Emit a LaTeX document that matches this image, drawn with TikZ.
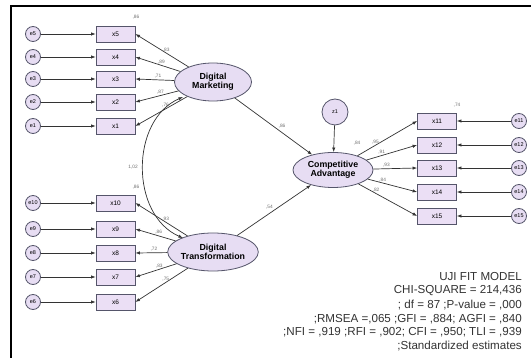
\documentclass[tikz,border=0pt]{standalone}
\usepackage{fontspec}
\setmainfont{Liberation Sans}
\usetikzlibrary{shapes.geometric,arrows.meta}
\definecolor{edgec}{HTML}{55556A}
\definecolor{fillc}{HTML}{E7DDF3}
\definecolor{boxc}{HTML}{EBDFF5}
\definecolor{linec}{HTML}{333333}
\definecolor{labc}{HTML}{707070}
\newcommand{\fsz}[1]{\fontsize{#1}{#1}\selectfont}
\tikzset{
  err/.style={circle, draw=edgec, fill=fillc, line width=0.8pt, minimum size=15pt, inner sep=0pt, font=\fsz{5.5}},
  obs/.style={rectangle, draw=edgec, fill=boxc, line width=0.8pt, minimum width=39pt, minimum height=16pt, inner sep=0pt, font=\fsz{6.5}},
  lat/.style={ellipse, draw=edgec, fill=fillc, line width=0.8pt, inner sep=0pt, align=center, font=\bfseries\fsz{8.8}},
  arr/.style={-{Latex[length=4.5pt,width=3.4pt]}, draw=linec, line width=0.7pt},
  lab/.style={font=\fsz{4.8}, text=labc, inner sep=0.5pt},
  fit/.style={font=\fsz{11.6}, text=black!80, anchor=east, inner sep=0pt}
}
\begin{document}
\begin{tikzpicture}[x=1pt,y=-1pt]
\useasboundingbox (0,0) rectangle (531,358);
\fill[white] (0,0) rectangle (531,358);
\draw[black, line width=1.4pt] (11,358) -- (11,6) -- (531,6);
% latent variables
\node[lat, minimum width=77pt, minimum height=38pt] (DM) at (213,82) {Digital\\Marketing};
\node[lat, minimum width=77pt, minimum height=38pt] (DT) at (213,252) {Digital\\Transformation};
\node[lat, minimum width=80pt, minimum height=35pt] (CA) at (333,170) {Competitive\\Advantage};
\node[err, minimum size=26pt] (z1) at (335,112) {z1};
% Digital Marketing indicators
\foreach \i/\y/\v in {5/34/{,83},4/57/{,89},3/79/{,71},2/102/{,87},1/126/{,76}}{
  \node[err] (e\i) at (33,\y) {e\i};
  \node[obs] (x\i) at (115.5,\y) {x\i};
  \draw[arr] (e\i) -- (x\i);
  \draw[arr] (DM) -- node[lab, pos=0.42, above=0.5pt] {\v} (x\i.east);
}
% Digital Transformation indicators
\foreach \i/\y/\v in {10/203/{,93},9/229/{,86},8/253/{,72},7/277/{,83},6/302/{,75}}{
  \node[err] (e\i) at (33,\y) {e\i};
  \node[obs] (x\i) at (115.5,\y) {x\i};
  \draw[arr] (e\i) -- (x\i);
  \draw[arr] (DT) -- node[lab, pos=0.42, above=0.5pt] {\v} (x\i.east);
}
% Competitive Advantage indicators
\foreach \i/\y/\v in {11/121/{,95},12/145/{,91},13/168/{,93},14/192/{,84},15/216/{,82}}{
  \node[obs] (x\i) at (437,\y) {x\i};
  \node[err] (e\i) at (519,\y) {e\i};
  \draw[arr] (e\i) -- (x\i);
  \draw[arr] (CA) -- node[lab, pos=0.3, above=0.5pt] {\v} (x\i.west);
}
% squared multiple correlations
\node[lab] (r5) at (136,17) {,86};
\node[lab] (r10) at (136,187) {,86};
\node[lab] (r11) at (457,105) {,74};
\node[lab] (rca) at (357,143) {,84};
% structural paths
\draw[arr] (z1) -- (CA);
\draw[arr] (DM) -- node[lab, pos=0.55, above right=0.5pt] {,86} (CA);
\draw[arr] (DT) -- node[lab, pos=0.5, above left=0.5pt] {,54} (CA);
% covariance
\coordinate (c1) at (183,97);
\coordinate (c2) at (183,238);
\draw[{Latex[length=4.5pt,width=3.4pt]}-{Latex[length=4.5pt,width=3.4pt]}, draw=linec, line width=0.7pt]
  (c1) .. controls (130,120) and (130,215) .. (c2);
\node[lab] (cov) at (133,167) {1,02};
% fit indices
\node[fit] (f1) at (522,277) {UJI FIT MODEL};
\node[fit] (f2) at (522,291) {CHI-SQUARE = 214,436};
\node[fit] (f3) at (522,305) {; df = 87 ;P-value = ,000};
\node[fit] (f4) at (522,319) {;RMSEA =,065 ;GFI = ,884; AGFI = ,840};
\node[fit] (f5) at (522,332) {;NFI = ,919 ;RFI = ,902; CFI = ,950; TLI = ,939};
\node[fit] (f6) at (522,346) {;Standardized estimates};
\end{tikzpicture}
\end{document}
